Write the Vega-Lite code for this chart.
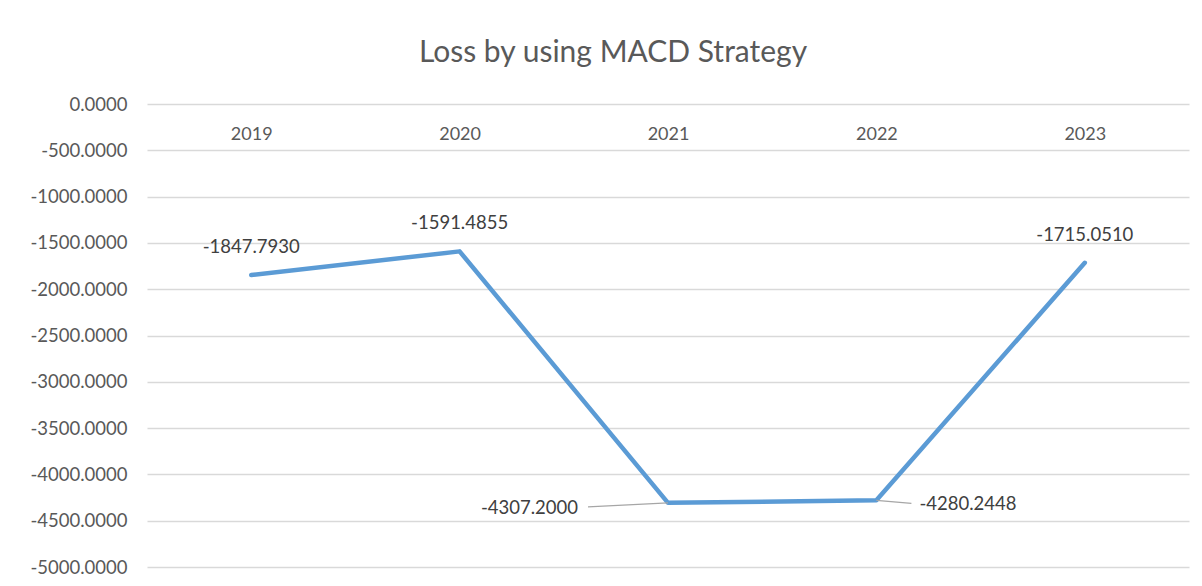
{
  "$schema": "https://vega.github.io/schema/vega-lite/v6.json",
  "autosize": {"type": "none"},
  "width": 1042,
  "height": 463,
  "padding": {"left": 147, "top": 104, "right": 13, "bottom": 19},
  "background": "white",
  "title": {
    "text": "Loss by using MACD Strategy",
    "font": "Lato",
    "fontSize": 30,
    "fontWeight": 400,
    "color": "#595959",
    "anchor": "middle",
    "frame": "group",
    "dx": -55,
    "dy": -3,
    "baseline": "alphabetic",
    "offset": 0
  },
  "data": {
    "values": [
      {"year": "2019", "value": -1847.7930},
      {"year": "2020", "value": -1591.4855},
      {"year": "2021", "value": -4307.2000},
      {"year": "2022", "value": -4280.2448},
      {"year": "2023", "value": -1715.0510}
    ]
  },
  "encoding": {
    "x": {
      "field": "year",
      "type": "nominal",
      "sort": null,
      "scale": {"type": "point", "padding": 0.5},
      "axis": {
        "orient": "bottom",
        "offset": -463,
        "title": null,
        "domain": false,
        "ticks": false,
        "grid": false,
        "labelAngle": 0,
        "labelFont": "Lato",
        "labelFontSize": 18,
        "labelColor": "#595959",
        "labelBaseline": "alphabetic",
        "labelPadding": 35
      }
    },
    "y": {
      "field": "value",
      "type": "quantitative",
      "scale": {"domain": [-5000, 0], "nice": false, "zero": false},
      "axis": {
        "title": null,
        "values": [0, -500, -1000, -1500, -2000, -2500, -3000, -3500, -4000, -4500, -5000],
        "format": ".4f",
        "domain": false,
        "ticks": false,
        "grid": true,
        "gridColor": "#d9d9d9",
        "gridWidth": 1.5,
        "labelFont": "Lato",
        "labelFontSize": 18.5,
        "labelColor": "#595959",
        "labelPadding": 20,
        "labelBaseline": "middle"
      }
    }
  },
  "layer": [
    {
      "mark": {"type": "line", "color": "#5B9BD5", "strokeWidth": 4.5, "strokeCap": "round", "strokeJoin": "round"}
    },
    {
      "transform": [{"filter": "datum.year == '2021'"}],
      "mark": {"type": "rule", "color": "#a6a6a6", "strokeWidth": 1.2, "x2Offset": -80, "y2Offset": 4},
      "encoding": {
        "x2": {"field": "year"},
        "y2": {"field": "value"}
      }
    },
    {
      "transform": [{"filter": "datum.year == '2022'"}],
      "mark": {"type": "rule", "color": "#a6a6a6", "strokeWidth": 1.2, "x2Offset": 35, "y2Offset": 3},
      "encoding": {
        "x2": {"field": "year"},
        "y2": {"field": "value"}
      }
    },
    {
      "transform": [{"filter": "datum.year == '2019' || datum.year == '2020' || datum.year == '2023'"}],
      "mark": {"type": "text", "font": "Lato", "fontSize": 18.5, "color": "#404040", "align": "center", "baseline": "alphabetic", "dy": -22},
      "encoding": {"text": {"field": "value", "type": "quantitative", "format": ".4f"}}
    },
    {
      "transform": [{"filter": "datum.year == '2021'"}],
      "mark": {"type": "text", "font": "Lato", "fontSize": 18.5, "color": "#404040", "align": "right", "baseline": "alphabetic", "dx": -90, "dy": 11},
      "encoding": {"text": {"field": "value", "type": "quantitative", "format": ".4f"}}
    },
    {
      "transform": [{"filter": "datum.year == '2022'"}],
      "mark": {"type": "text", "font": "Lato", "fontSize": 18.5, "color": "#404040", "align": "left", "baseline": "alphabetic", "dx": 43, "dy": 10},
      "encoding": {"text": {"field": "value", "type": "quantitative", "format": ".4f"}}
    }
  ],
  "config": {
    "view": {"stroke": null},
    "locale": {
      "number": {"decimal": ".", "thousands": "", "grouping": [3], "currency": ["", ""], "minus": "-"}
    }
  }
}
